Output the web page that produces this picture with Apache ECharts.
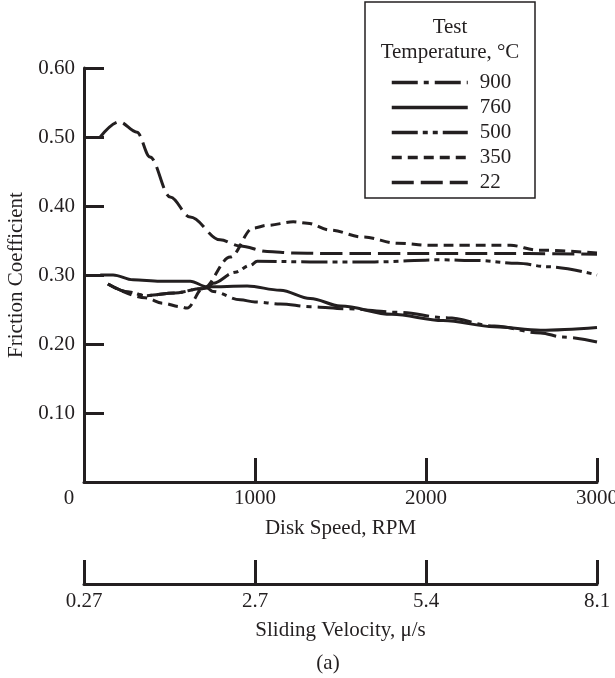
<!DOCTYPE html>
<html>
<head>
<meta charset="utf-8">
<script src="https://cdn.jsdelivr.net/npm/echarts@6/dist/echarts.min.js"></script>
<style>
html,body{margin:0;padding:0;background:#fff;}
#chart{width:615px;height:678px;}
</style>
</head>
<body>
<div id="chart"></div>
<script>
// ---- data ----
const seriesNames = ['900', '760', '500', '350', '22'];
const rpmTicks = [0, 1000, 2000, 3000];
const velocityLabels = ['0.27', '2.7', '5.4', '8.1'];

const s900 = [[140,0.287],[269,0.275],[357,0.270],[533,0.274],[679,0.280],[720,0.281],[755,0.276],[913,0.264],[1000,0.261],[1148,0.258],[1323,0.254],[1540,0.251],[1833,0.246],[2125,0.238],[2400,0.226],[2670,0.216],[2800,0.210],[3000,0.203]];
const s760 = [[95,0.300],[170,0.300],[287,0.293],[445,0.291],[621,0.291],[720,0.283],[954,0.284],[1148,0.278],[1323,0.266],[1500,0.255],[1800,0.243],[2100,0.234],[2400,0.225],[2670,0.220],[3000,0.224]];
const s500 = [[140,0.287],[269,0.275],[357,0.270],[533,0.274],[679,0.280],[720,0.281],[755,0.288],[884,0.304],[972,0.314],[1013,0.320],[1323,0.319],[1700,0.319],[2084,0.322],[2300,0.321],[2535,0.317],[2711,0.312],[3000,0.300]];
const s350 = [[140,0.287],[357,0.267],[463,0.259],[562,0.254],[603,0.252],[697,0.281],[855,0.326],[989,0.368],[1071,0.372],[1224,0.377],[1306,0.375],[1440,0.365],[1633,0.355],[1833,0.346],[2026,0.343],[2219,0.343],[2494,0.343],[2652,0.336],[3000,0.332]];
const s22 = [[95,0.500],[205,0.522],[310,0.507],[386,0.471],[504,0.413],[621,0.384],[796,0.351],[913,0.342],[1071,0.334],[1224,0.332],[1458,0.331],[1800,0.331],[2200,0.331],[2600,0.331],[3000,0.330]];

const seriesData = [s900, s760, s500, s350, s22];
const dashes = [[26,6,5,6], 'solid', [26,5,5,5,5,5], [10,6], [22,7]];

const INK = '#231f20';
const FONT = 'Liberation Serif';
const FS = 21;

const chart = echarts.init(document.getElementById('chart'), null, {renderer: 'canvas'});

const option = {
  animation: false,
  backgroundColor: '#fff',
  textStyle: {fontFamily: FONT, color: INK},
  grid: [
    {left: 84, right: 18, top: 68, bottom: 196, containLabel: false, outerBoundsMode: 'none'},
    {left: 84, right: 18, top: 558, height: 26, containLabel: false, outerBoundsMode: 'none'}
  ],
  xAxis: [
    {
      type: 'value', gridIndex: 0, min: 0, max: 3000, interval: 1000,
      name: 'Disk Speed, RPM', nameLocation: 'middle', nameGap: 36,
      nameTextStyle: {fontFamily: FONT, fontSize: FS, color: INK},
      axisLine: {show: true, lineStyle: {color: INK, width: 3}},
      axisTick: {show: true, inside: true, length: 24, lineStyle: {color: INK, width: 3}},
      splitLine: {show: false},
      axisLabel: {
        margin: 6, fontFamily: FONT, fontSize: FS, color: INK, hideOverlap: false,
        formatter: function (v) { return v === 0 ? '{z|0}' : String(v); },
        rich: {z: {fontFamily: FONT, fontSize: FS, color: INK, padding: [0, 30, 0, 0]}}
      }
    },
    {
      type: 'value', gridIndex: 1, min: 0, max: 3000, interval: 1000,
      name: 'Sliding Velocity, \u03bc/s', nameLocation: 'middle', nameGap: 36,
      nameTextStyle: {fontFamily: FONT, fontSize: FS, color: INK},
      axisLine: {show: true, lineStyle: {color: INK, width: 3}},
      axisTick: {show: true, inside: true, length: 24, lineStyle: {color: INK, width: 3}},
      splitLine: {show: false},
      axisLabel: {
        margin: 7, fontFamily: FONT, fontSize: FS, color: INK,
        formatter: function (v) { return velocityLabels[rpmTicks.indexOf(v)] || ''; }
      }
    }
  ],
  yAxis: [
    {
      type: 'value', gridIndex: 0, min: 0, max: 0.6, interval: 0.1,
      name: 'Friction Coefficient', nameLocation: 'middle', nameGap: 56,
      nameTextStyle: {fontFamily: FONT, fontSize: FS, color: INK},
      axisLine: {show: true, lineStyle: {color: INK, width: 3}},
      axisTick: {show: true, inside: true, length: 20, lineStyle: {color: INK, width: 3}},
      splitLine: {show: false},
      axisLabel: {
        margin: 9, fontFamily: FONT, fontSize: FS, color: INK,
        formatter: function (v) { return v === 0 ? '' : v.toFixed(2); }
      }
    },
    {type: 'value', gridIndex: 1, show: false, min: 0, max: 1}
  ],
  legend: {
    orient: 'vertical', left: 385, top: 65,
    itemWidth: 76, itemHeight: 1, itemGap: 0,
    itemStyle: {opacity: 0, borderWidth: 0},
    lineStyle: {width: 3.5},
    textStyle: {fontFamily: FONT, fontSize: FS, color: INK, lineHeight: 25, padding: [0, 0, 0, 7]},
    data: seriesNames
  },
  graphic: [
    {type: 'rect', shape: {x: 365, y: 2, width: 170, height: 196},
     style: {fill: 'none', stroke: INK, lineWidth: 1.5}, z: 100},
    {type: 'text', x: 450, y: 27, style: {text: 'Test', font: FS + 'px "Liberation Serif"', fill: INK, textAlign: 'center', textVerticalAlign: 'middle'}},
    {type: 'text', x: 450, y: 52, style: {text: 'Temperature, \u00b0C', font: FS + 'px "Liberation Serif"', fill: INK, textAlign: 'center', textVerticalAlign: 'middle'}},
    {type: 'text', x: 328, y: 663, style: {text: '(a)', font: FS + 'px "Liberation Serif"', fill: INK, textAlign: 'center', textVerticalAlign: 'middle'}}
  ],
  series: seriesNames.map(function (name, i) {
    return {
      name: name, type: 'line', xAxisIndex: 0, yAxisIndex: 0,
      data: seriesData[i], symbol: 'none', smooth: 0.35, smoothMonotone: 'x',
      lineStyle: {color: INK, width: 3, type: dashes[i]},
      itemStyle: {color: INK},
      emphasis: {disabled: true}
    };
  })
};
chart.setOption(option);
</script>
</body>
</html>
